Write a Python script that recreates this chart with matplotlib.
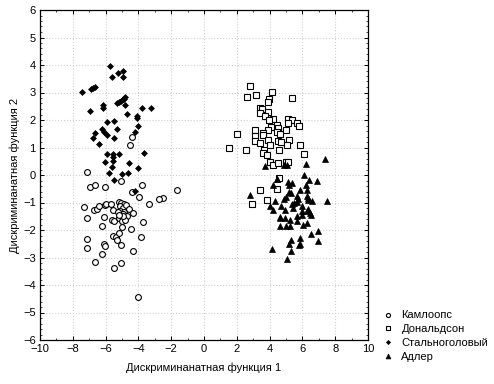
import matplotlib
matplotlib.use("Agg")
import matplotlib.pyplot as plt
from matplotlib.ticker import MultipleLocator

plt.rcParams['font.family'] = ['Liberation Sans', 'DejaVu Sans']

# Камлоопс (circles)
kam_x = [-4.41, -4.49, -7.12, -5.04, -6.95, -6.66, -6.02, -3.76, -1.63, -4.37, -3.94, -2.48, -2.73,
         -7.30, -7.15, -6.69, -6.54, -6.38, -6.06, -5.98, -5.69, -5.57, -5.20, -5.05, -4.90, -5.15,
         -4.95, -4.75, -5.10, -4.85, -4.60, -4.95, -5.25, -4.70, -3.33, -4.31, -6.08, -5.63, -5.49,
         -5.16, -5.02, -4.82, -4.92, -5.16, -3.70, -6.24, -4.98, -4.43, -5.53, -5.37, -5.16, -5.32,
         -3.84, -7.12, -7.12, -6.10, -6.02, -5.04, -4.31, -6.24, -6.63, -5.04, -5.47, -4.05]
kam_y = [1.40, 1.10, 0.12, -0.20, -0.42, -0.35, -0.42, -0.35, -0.56, -0.62, -0.81, -0.83, -0.87,
         -1.16, -1.56, -1.29, -1.22, -1.13, -1.10, -1.07, -1.07, -1.29, -0.97, -1.02, -1.05, -1.12,
         -1.20, -1.10, -1.30, -1.35, -1.25, -1.40, -1.33, -1.50, -1.04, -1.37, -1.52, -1.62, -1.68,
         -1.58, -1.68, -1.63, -1.50, -1.44, -1.70, -1.84, -1.88, -1.96, -2.22, -2.26, -2.10, -2.38,
         -2.25, -2.31, -2.65, -2.50, -2.59, -2.56, -2.77, -2.87, -3.16, -3.19, -3.38, -4.43]

# Дональдсон (squares)
don_x = [2.82, 2.64, 3.19, 4.16, 5.38, 3.98, 3.92, 3.41, 3.52, 3.43, 3.92, 3.74, 4.23, 3.94,
         5.14, 5.35, 5.14, 5.65, 5.81, 4.47, 4.10, 4.53, 3.90, 3.13, 2.03, 3.62, 3.60, 4.43, 4.61,
         5.02, 3.13, 3.13, 3.92, 3.43, 4.51, 4.68, 5.20, 4.04, 5.08, 5.87, 1.52, 2.58, 3.68, 4.59,
         3.62, 3.86, 6.12, 4.04, 4.23, 4.53, 5.02, 5.14, 4.55, 3.43, 4.47, 2.95, 3.86]
don_y = [3.24, 2.84, 2.92, 3.02, 2.81, 2.75, 2.66, 2.42, 2.41, 2.26, 2.30, 2.14, 2.04, 1.99,
         2.05, 2.01, 1.90, 1.90, 1.79, 1.81, 1.75, 1.70, 1.64, 1.64, 1.50, 1.53, 1.47, 1.56, 1.50,
         1.62, 1.41, 1.24, 1.28, 1.18, 1.24, 1.19, 1.29, 1.10, 1.10, 1.10, 0.99, 0.92, 0.90, 0.92,
         0.81, 0.71, 0.77, 0.48, 0.38, 0.44, 0.49, 0.47, -0.10, -0.53, -0.50, -1.04, -0.90]

# Стальноголовый (diamonds)
sth_x = [-5.71, -5.23, -4.96, -5.59, -4.96, -7.42, -6.89, -6.75, -6.65, -6.93, -6.14, -6.14,
         -5.29, -5.16, -5.08, -4.96, -4.88, -4.80, -4.80, -3.76, -3.21, -4.70, -4.07, -4.07,
         -5.47, -5.90, -6.20, -6.10, -5.29, -4.00, -4.19, -6.63, -5.90, -6.75, -5.47, -6.38,
         -3.64, -5.90, -5.53, -5.53, -5.16, -6.02, -5.53, -4.55, -5.63, -4.00, -5.77, -4.61,
         -4.98, -5.47, -4.22]
sth_y = [3.98, 3.72, 3.80, 3.57, 3.57, 3.02, 3.11, 3.16, 3.19, 2.31, 2.53, 2.43,
         2.62, 2.65, 2.68, 2.75, 2.78, 2.82, 2.55, 2.44, 2.42, 2.22, 2.16, 2.08,
         1.98, 1.93, 1.68, 1.58, 1.68, 1.79, 1.56, 1.53, 1.47, 1.35, 1.35, 1.13,
         0.81, 0.78, 0.76, 0.66, 0.78, 0.48, 0.52, 0.44, 0.30, 0.26, 0.08, 0.08,
         0.02, -0.17, -0.57]

# Адлер (triangles)
adl_x = [7.38, 3.72, 6.22, 4.90, 5.04, 6.08, 4.47, 5.10, 5.38, 5.20, 6.38, 6.87, 4.19, 6.22,
         6.30, 2.80, 5.85, 5.20, 5.29, 4.35, 5.00, 4.90, 5.69, 5.75, 5.51, 5.35, 5.65, 6.26,
         6.32, 6.57, 6.36, 7.48, 4.04, 4.21, 4.70, 4.94, 5.96, 6.00, 6.30, 6.46, 6.36, 6.52,
         5.69, 5.65, 4.63, 4.92, 5.24, 4.63, 4.98, 5.24, 6.04, 6.26, 6.93, 6.52, 5.85, 6.93,
         5.29, 5.20, 5.81, 4.13, 5.29, 5.06, 4.45, 5.85, 4.63, 5.40, 5.95]
adl_y = [0.60, 0.32, 0.41, 0.35, 0.36, -0.01, -0.16, -0.25, -0.30, -0.35, -0.19, -0.21, -0.38, -0.38,
         -0.53, -0.73, -0.55, -0.60, -0.65, -0.94, -0.81, -0.89, -0.77, -0.89, -1.01, -1.07, -0.99, -0.77,
         -0.92, -0.95, -0.85, -0.95, -1.11, -1.29, -1.11, -1.28, -1.11, -1.32, -1.32, -1.38, -1.25, -1.44,
         -1.50, -1.68, -1.56, -1.56, -1.62, -1.86, -1.86, -1.84, -1.80, -1.76, -2.04, -2.16, -2.28, -2.41,
         -2.37, -2.50, -2.53, -2.68, -2.77, -3.05, -0.14, -2.50, -1.52, -1.20, -1.45]

labels = ['Камлоопс', 'Дональдсон', 'Стальноголовый', 'Адлер']

fig = plt.figure(figsize=(4.94, 3.84), dpi=100)
ax = fig.add_axes([40/494, 1-340/384, 328/494, 330/384])

ax.plot(kam_x, kam_y, 'o', mfc='white', mec='black', ms=4.2, mew=0.8, ls='none', label=labels[0])
ax.plot(don_x, don_y, 's', mfc='white', mec='black', ms=4.0, mew=0.8, ls='none', label=labels[1])
ax.plot(sth_x, sth_y, 'D', mfc='black', mec='black', ms=3.0, mew=0.5, ls='none', label=labels[2])
ax.plot(adl_x, adl_y, '^', mfc='black', mec='black', ms=5.0, mew=0.5, ls='none', label=labels[3])

ax.set_xlim(-10, 10)
ax.set_ylim(-6, 6)
ax.xaxis.set_major_locator(MultipleLocator(2))
ax.xaxis.set_minor_locator(MultipleLocator(1))
ax.yaxis.set_major_locator(MultipleLocator(1))
ax.yaxis.set_minor_locator(MultipleLocator(0.2))
ax.tick_params(which='both', direction='in', top=True, right=True, labelsize=8, pad=3)
ax.tick_params(which='major', length=3, width=0.7)
ax.tick_params(which='minor', length=1.5, width=0.5)
ax.grid(True, which='major', color='#d0d0d0', ls=':', lw=0.8)
for s in ax.spines.values():
    s.set_linewidth(0.9)

ax.set_xlabel('Дискриминанатная функция 1', fontsize=8, labelpad=6)
ax.set_ylabel('Дискриминанатная функция 2', fontsize=8, labelpad=2)

ax.legend(loc='center left', bbox_to_anchor=(382/494, 1-336/384), bbox_transform=fig.transFigure,
          frameon=False, fontsize=8, borderpad=0, borderaxespad=0.0,
          handletextpad=0.75, labelspacing=0.33, handlelength=1.0, markerscale=0.7)

fig.savefig('out.png', dpi=100)
